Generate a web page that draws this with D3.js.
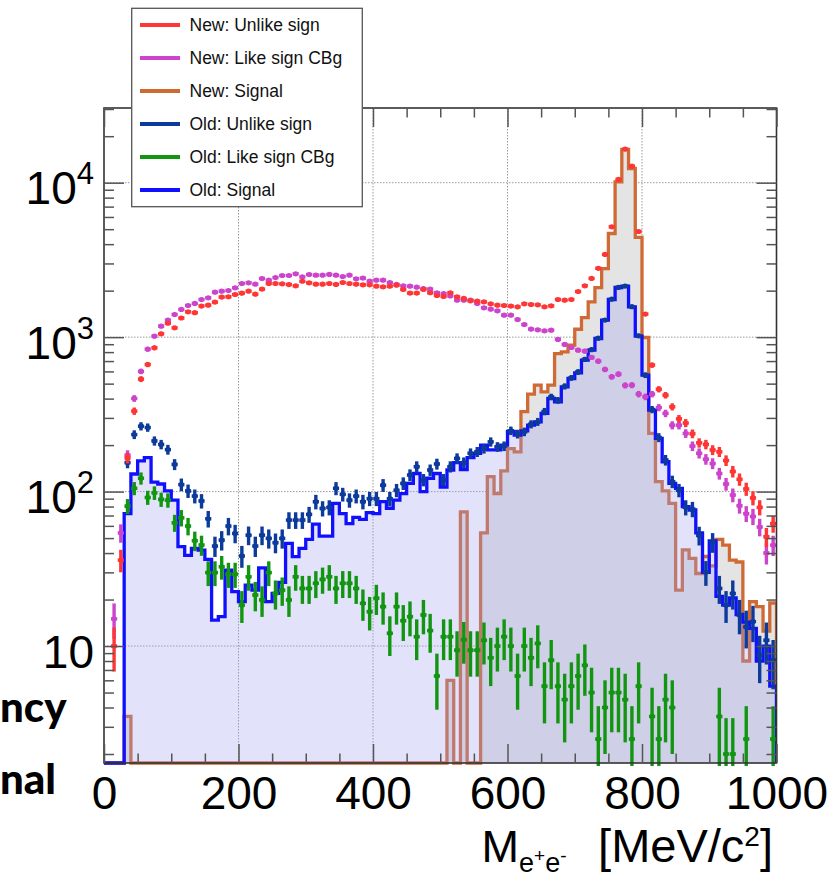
<!DOCTYPE html>
<html>
<head>
<meta charset="utf-8">
<script src="https://cdn.jsdelivr.net/npm/d3@7"></script>
<style>
  body { margin: 0; background: #fff; }
  svg { display: block; }
</style>
</head>
<body>
<div id="chart"></div>
<script>
const width = 835;
const height = 880;
const frame = {left: 104, right: 776.5, top: 108, bottom: 763};

// bins of 10 MeV/c2 from 0 to 1000 (low edges)
const binWidth = 10;
const bins = d3.range(0, 1000, binWidth);

const newUnlike = [0, 10, 36, 165, 332, 535, 665, 853, 1051, 1230,
  1149, 1330, 1459, 1440, 1590, 1611, 1686, 1816, 1826, 1889,
  1927, 1985, 1898, 2046, 2225, 2225, 2213, 2191, 2148, 2300,
  2248, 2203, 2203, 2225, 2193, 2259, 2225, 2203, 2182, 2182,
  2138, 2117, 2138, 2171, 2036, 1928, 1928, 2036, 1938, 1861,
  1834, 1938, 1826, 1780, 1719, 1709, 1692, 1643, 1611, 1603,
  1588, 1572, 1643, 1627, 1619, 1572, 1595, 1753, 1735, 1753,
  1975, 2150, 2399, 2790, 3430, 5180, 10500, 16500, 12800, 4830,
  1410, 659, 460, 421, 354, 296, 278, 237, 207, 202,
  186, 181, 159, 135, 120, 104, 91, 79, 51, 62];

const newLike = [0, 15, 54, 172, 401, 600, 836, 1015, 1178, 1288,
  1402, 1511, 1603, 1652, 1753, 1798, 1955, 1985, 2005, 2086,
  2225, 2248, 2203, 2397, 2339, 2432, 2506, 2506, 2570, 2456,
  2545, 2519, 2519, 2547, 2519, 2470, 2519, 2389, 2411, 2306,
  2339, 2339, 2259, 2193, 2149, 2138, 2105, 2063, 2046, 1938,
  1916, 1849, 1736, 1736, 1736, 1652, 1549, 1518, 1481, 1388,
  1388, 1301, 1207, 1127, 1115, 1098, 1109, 966, 897, 858,
  824, 812, 739, 699, 618, 554, 576, 487, 489, 428,
  411, 428, 350, 321, 269, 269, 238, 197, 177, 162,
  152, 131, 112, 95, 81, 72, 69, 59, 40, 45];

const newSignal = [0, 0, 0, 3.5, 0, 0, 0, 0, 0, 0,
  0, 0, 0, 0, 0, 0, 0, 0, 0, 0,
  0, 0, 0, 0, 0, 0, 0, 0, 0, 0,
  0, 0, 0, 0, 0, 0, 0, 0, 0, 0,
  0, 0, 0, 0, 0, 0, 0, 0, 0, 0,
  0, 6, 0, 74, 0, 0, 54, 125, 97, 136,
  190, 181, 329, 428, 489, 442, 489, 783, 803, 887,
  1125, 1337, 1694, 2090, 2780, 4690, 10110, 16400, 12360, 4430,
  995, 238, 116, 101, 84, 23, 42, 37, 29.5, 38,
  33, 49, 45, 36, 35, 8, 19.4, 18, 12.5, 19];

const oldUnlike = [0, 0, 0, 154, 234, 265, 260, 213, 202, 187,
  150, 111, 101, 93.5, 87, 66.7, 44.4, 48.5, 59.8, 53.6,
  38.3, 52.2, 44.4, 52.2, 49.8, 46.7, 49.8, 65.4, 65.4, 65.4,
  71.2, 86, 77.8, 79, 105, 96, 88, 93.5, 86, 90,
  90, 110, 90, 102, 113, 128, 145, 119, 138, 151,
  119, 145, 164, 154, 177, 181, 190, 210, 195, 197,
  248, 236, 244, 273, 283, 330, 410, 390, 480, 545,
  595, 718, 830, 985, 1290, 1760, 2100, 2140, 1575, 1020,
  567, 340, 224, 160, 116, 102, 79, 77, 52, 30,
  47, 23.6, 18.4, 21.9, 15.9, 13.3, 14.4, 8.7, 10.9, 8.1];

const oldLike = [0, 0, 0, 80.5, 105, 122, 91.6, 98.2, 89, 88,
  62.8, 67.7, 59.8, 48.1, 45.1, 29.9, 29.9, 32.6, 29.2, 29.2,
  18.4, 28.1, 21.4, 19.9, 29.9, 21.9, 23, 19.9, 28.1, 23.6,
  23.6, 25.5, 27, 28.1, 23.6, 25.5, 25.5, 23.6, 18.9, 16.7,
  20.4, 18, 12.1, 18, 14.6, 15.5, 11.5, 15.9, 12.6, 6.4,
  11.5, 11.5, 9.4, 11, 9.4, 9.4, 10.9, 8.4, 10, 11.5,
  10, 6.4, 10, 8.4, 10.4, 5.5, 8.1, 5.5, 4.5, 5.5,
  6.4, 7.5, 5, 2.5, 4, 5, 5, 4.5, 2.5, 5.5,
  0, 3.5, 2.5, 4.5, 4, 0, 0, 0, 0, 0,
  0, 3.5, 2, 2, 0, 2.5, 0, 0, 0, 2.5];

const oldSignal = [0, 0, 0, 72, 130, 158, 166, 115, 112, 101,
  88, 44, 38.6, 42.9, 41.8, 36.4, 14.7, 15.5, 31, 22.5,
  19.4, 24.8, 23, 32.1, 19.4, 21.9, 25.8, 46.2, 37.9, 42.9,
  49, 61.6, 51.5, 51.5, 84, 72, 62, 68, 66, 73,
  72, 86, 78, 88, 97, 113, 131, 100, 122, 131,
  107, 138, 154, 139, 166, 177, 200, 186, 186, 200,
  245, 232, 247, 269, 283, 321, 401, 381, 477, 540,
  587, 710, 824, 980, 1288, 1753, 2096, 2138, 1570, 1015,
  567, 337, 221, 156, 113, 105, 80, 76, 54, 30,
  48, 21, 18.4, 20.5, 16, 14.3, 13, 8, 10, 5.5];

const legendNames = ["New: Unlike sign", "New: Like sign CBg", "New: Signal",
                     "Old: Unlike sign", "Old: Like sign CBg", "Old: Signal"];
const legendColors = ["#ff3636", "#cc44cc", "#cf6a35", "#0d3b9c", "#129612", "#1010ff"];

const xMajor = [0, 200, 400, 600, 800, 1000];
const yMajor = [10, 100, 1000, 10000];

const yMin = 1.749, yMax = 30450;

const svg = d3.select("#chart").append("svg")
    .attr("width", width)
    .attr("height", height)
    .style("font-family", "'Liberation Sans', Arial, Helvetica, sans-serif");

const x = d3.scaleLinear().domain([0, 1000]).range([frame.left, frame.right]);
const y = d3.scaleLog().domain([yMin, yMax]).range([frame.bottom, frame.top]);
const yc = v => v > yMin ? y(v) : frame.bottom;

svg.append("defs").append("clipPath").attr("id", "clipFrame")
  .append("rect")
    .attr("x", frame.left).attr("y", frame.top)
    .attr("width", frame.right - frame.left)
    .attr("height", frame.bottom - frame.top + 3);

// grid (dotted)
const grid = svg.append("g")
    .attr("stroke", "#9a9a9a")
    .attr("stroke-width", 1)
    .attr("stroke-dasharray", "1.5,1.5");
grid.selectAll("line.gx").data(xMajor.slice(1, -1)).enter().append("line")
    .attr("x1", d => x(d)).attr("x2", d => x(d))
    .attr("y1", frame.top).attr("y2", frame.bottom);
grid.selectAll("line.gy").data(yMajor).enter().append("line")
    .attr("x1", frame.left).attr("x2", frame.right)
    .attr("y1", d => y(d)).attr("y2", d => y(d));

const plot = svg.append("g").attr("clip-path", "url(#clipFrame)");

function stepPoints(vals) {
  const pts = [[x(0), frame.bottom]];
  vals.forEach(function(v, i) {
    pts.push([x(bins[i]), yc(v)]);
    pts.push([x(bins[i] + binWidth), yc(v)]);
  });
  pts.push([x(1000), frame.bottom]);
  return pts;
}

const line = d3.line();

function drawHist(vals, fill, fillOpacity, stroke) {
  const pts = stepPoints(vals);
  plot.append("path")
      .attr("d", line(pts) + "Z")
      .attr("fill", fill)
      .attr("fill-opacity", fillOpacity);
  plot.append("path")
      .attr("d", line(pts))
      .attr("fill", "none")
      .attr("stroke", stroke)
      .attr("stroke-width", 3.3);
}

drawHist(newSignal, "#e4e4e4", 1, legendColors[2]);
drawHist(oldSignal, "rgb(160,160,240)", 0.3, legendColors[5]);

function drawPoints(vals, color) {
  const data = bins.map((b, i) => ({b: b, v: vals[i]})).filter(d => d.v > 0);
  const g = plot.append("g").attr("stroke", color).attr("stroke-width", 3.4);
  g.selectAll("line.ev").data(data).enter().append("line")
      .attr("x1", d => x(d.b + binWidth / 2))
      .attr("x2", d => x(d.b + binWidth / 2))
      .attr("y1", d => y(d.v + Math.sqrt(d.v)))
      .attr("y2", d => yc(d.v - Math.sqrt(d.v)) + (d.v - Math.sqrt(d.v) > yMin ? 0 : 5));
  g.selectAll("line.eh").data(data).enter().append("line")
      .attr("x1", d => x(d.b + 0.4))
      .attr("x2", d => x(d.b + binWidth - 0.4))
      .attr("y1", d => y(d.v))
      .attr("y2", d => y(d.v));
  g.selectAll("circle").data(data).enter().append("circle")
      .attr("cx", d => x(d.b + binWidth / 2))
      .attr("cy", d => y(d.v))
      .attr("r", 2.6)
      .attr("fill", color)
      .attr("stroke", "none");
}

drawPoints(oldLike, legendColors[4]);
drawPoints(oldUnlike, legendColors[3]);
drawPoints(newLike, legendColors[1]);
drawPoints(newUnlike, legendColors[0]);

// frame
svg.append("rect")
    .attr("x", frame.left).attr("y", frame.top)
    .attr("width", frame.right - frame.left)
    .attr("height", frame.bottom - frame.top)
    .attr("fill", "none")
    .attr("stroke", "#333")
    .attr("stroke-width", 1.6);

// axes (ticks inside the frame)
const xMinor = d3.range(50, 1000, 100).concat([100, 300, 500, 700, 900]);
const yMinor = [];
[1, 10, 100, 1000, 10000].forEach(function(dec) {
  for (let k = 2; k <= 9; k++) {
    const v = k * dec;
    if (v > yMin && v < yMax) yMinor.push(v);
  }
});

function styleAxis(g) {
  g.select(".domain").remove();
  g.selectAll(".tick line").attr("stroke", "#555").attr("stroke-width", 1.5);
}

const xAxis = svg.append("g")
    .attr("transform", "translate(0," + frame.bottom + ")")
    .call(d3.axisBottom(x).tickValues(xMajor).tickFormat(d3.format("d"))
      .tickSizeInner(-19).tickSizeOuter(0).tickPadding(13.5));
xAxis.call(styleAxis);
xAxis.selectAll("text")
    .attr("font-size", 46)
    .attr("fill", "#000")
    .attr("font-family", "'Liberation Sans', Arial, sans-serif");

svg.append("g")
    .attr("transform", "translate(0," + frame.bottom + ")")
    .call(d3.axisBottom(x).tickValues(xMinor).tickSizeInner(-9.5).tickSizeOuter(0).tickFormat(""))
    .call(styleAxis);
svg.append("g")
    .attr("transform", "translate(0," + frame.top + ")")
    .call(d3.axisTop(x).tickValues(xMajor).tickSizeInner(-19).tickSizeOuter(0).tickFormat(""))
    .call(styleAxis);
svg.append("g")
    .attr("transform", "translate(0," + frame.top + ")")
    .call(d3.axisTop(x).tickValues(xMinor).tickSizeInner(-9.5).tickSizeOuter(0).tickFormat(""))
    .call(styleAxis);

const yAxis = svg.append("g")
    .attr("transform", "translate(" + frame.left + ",0)")
    .call(d3.axisLeft(y).tickValues(yMajor).tickSizeInner(-20).tickSizeOuter(0).tickPadding(10));
yAxis.call(styleAxis);
yAxis.selectAll("text")
    .attr("font-size", 46)
    .attr("fill", "#000")
    .attr("dy", 21)
    .each(function(d) {
      const t = d3.select(this);
      const e = Math.round(Math.log10(d));
      t.text(null);
      t.append("tspan").text("10");
      if (e > 1) {
        t.append("tspan").attr("font-size", 31).attr("dy", -20).text(e);
      }
    });

svg.append("g")
    .attr("transform", "translate(" + frame.left + ",0)")
    .call(d3.axisLeft(y).tickValues(yMinor).tickSizeInner(-10).tickSizeOuter(0).tickFormat(""))
    .call(styleAxis);
svg.append("g")
    .attr("transform", "translate(" + frame.right + ",0)")
    .call(d3.axisRight(y).tickValues(yMajor).tickSizeInner(-20).tickSizeOuter(0).tickFormat(""))
    .call(styleAxis);
svg.append("g")
    .attr("transform", "translate(" + frame.right + ",0)")
    .call(d3.axisRight(y).tickValues(yMinor).tickSizeInner(-10).tickSizeOuter(0).tickFormat(""))
    .call(styleAxis);

// x axis title: M_{e+e-} [MeV/c^2]
const title1 = svg.append("text")
    .attr("x", 481.5).attr("y", 862)
    .attr("font-size", 45).attr("fill", "#000");
title1.append("tspan").text("M");
title1.append("tspan").attr("font-size", 27).attr("dy", 10).text("e");
title1.append("tspan").attr("font-size", 19).attr("dy", -10).text("+");
title1.append("tspan").attr("font-size", 27).attr("dy", 10).text("e");
title1.append("tspan").attr("font-size", 19).attr("dy", -10).text("-");

const title2 = svg.append("text")
    .attr("x", 773).attr("y", 862)
    .attr("text-anchor", "end")
    .attr("font-size", 47).attr("fill", "#000");
title2.append("tspan").text("[MeV/c");
title2.append("tspan").attr("font-size", 28).attr("dy", -16).text("2");
title2.append("tspan").attr("dy", 16).text("]");

// slide text cut at the left edge
svg.append("text")
    .attr("x", 0).attr("y", 722)
    .attr("font-family", "Lato, 'Open Sans', sans-serif")
    .attr("font-weight", 900)
    .attr("font-size", 42)
    .text("ncy");
svg.append("text")
    .attr("x", 0).attr("y", 794)
    .attr("font-family", "Lato, 'Open Sans', sans-serif")
    .attr("font-weight", 900)
    .attr("font-size", 42)
    .text("nal");

// legend
const legend = svg.append("g");
legend.append("rect")
    .attr("x", 131.7).attr("y", 8.3)
    .attr("width", 230.6).attr("height", 198.4)
    .attr("fill", "#fff")
    .attr("stroke", "#555")
    .attr("stroke-width", 1.3);

const entries = legend.selectAll("g.entry")
    .data(legendNames)
    .enter().append("g")
    .attr("transform", (d, i) => "translate(0," + (25 + i * 33) + ")");
entries.append("line")
    .attr("x1", 140).attr("x2", 180)
    .attr("y1", 0).attr("y2", 0)
    .attr("stroke", (d, i) => legendColors[i])
    .attr("stroke-width", 4);
entries.append("text")
    .attr("x", 189.5).attr("y", 0)
    .attr("dy", "0.36em")
    .attr("font-size", 17.5)
    .attr("fill", "#111")
    .text(d => d);
</script>
</body>
</html>
